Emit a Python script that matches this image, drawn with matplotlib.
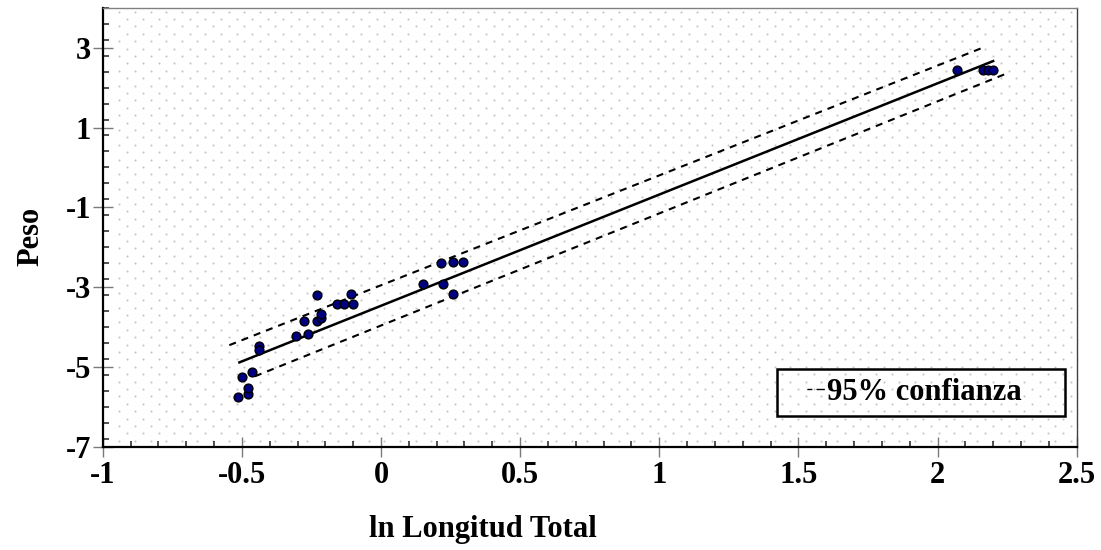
import numpy as np
import matplotlib
matplotlib.use("Agg")
import matplotlib.pyplot as plt
from matplotlib.lines import Line2D
from matplotlib.ticker import FixedLocator, FixedFormatter, MultipleLocator

# ---- data ----
ln_longitud = [-0.515, -0.479, -0.479, -0.501, -0.465, -0.438, -0.438,
               -0.306, -0.264, -0.277, -0.229, -0.214, -0.214, -0.229,
               -0.158, -0.134, -0.106, -0.099,
               0.151, 0.217, 0.224, 0.260, 0.260, 0.296,
               2.070, 2.162, 2.180, 2.198]
peso = [-5.74, -5.68, -5.52, -5.24, -5.12, -4.48, -4.56,
        -4.22, -4.16, -3.84, -3.84, -3.78, -3.66, -3.20,
        -3.41, -3.41, -3.18, -3.41,
        -2.91, -2.39, -2.91, -2.38, -3.18, -2.38,
        2.44, 2.44, 2.44, 2.44]

fit_x = [-0.513, 2.204]
fit_y = [-4.893, 2.675]
upper_x = [-0.545, 2.172]
upper_y = [-4.45, 3.025]
lower_x = [-0.453, 2.258]
lower_y = [-5.23, 2.38]

x_ticks = [-1, -0.5, 0, 0.5, 1, 1.5, 2, 2.5]
x_labels = ["-1", "-0.5", "0", "0.5", "1", "1.5", "2", "2.5"]
y_ticks = [-7, -5, -3, -1, 1, 3]
y_labels = ["-7", "-5", "-3", "-1", "1", "3"]
legend_label = "95% confianza"
xlabel = "ln Longitud Total"
ylabel = "Peso"

# ---- figure ----
plt.rcParams['font.family'] = ['Liberation Serif', 'DejaVu Serif']
plt.rcParams['font.weight'] = 'bold'
fs = 22

fig = plt.figure(figsize=(11.01, 5.5), dpi=100)
ax = fig.add_axes([102.7 / 1101, 1 - 447 / 550, 974 / 1101, 439.3 / 550])
ax.set_xlim(-1, 2.5)
ax.set_ylim(-7, 4)

# dotted background pattern (axes coordinates)
col = 15.6 / 974
row = 7.4 / 439.3
dx, dy = [], []
for i, yy in enumerate(np.arange(6.3 / 439.3, 1.0, row)):
    x0 = 16.6 / 974 + (i % 2) * 8.0 / 974
    xs = np.arange(x0, 1.0, col)
    dx.extend(xs)
    dy.extend([yy] * len(xs))
ax.scatter(dx, dy, s=2.2, c='#c4c4c4', linewidths=0, marker='o',
           transform=ax.transAxes, zorder=0, clip_on=True)

# lines
ax.plot(fit_x, fit_y, color='black', lw=1.8, zorder=3, solid_capstyle='butt')
ax.plot(upper_x, upper_y, color='black', lw=1.5, dashes=(3.4, 2.9), zorder=3)
ax.plot(lower_x, lower_y, color='black', lw=1.5, dashes=(3.4, 2.9), zorder=3)

# points
ax.scatter(ln_longitud, peso, s=40, c='#000080', edgecolors='black',
           linewidths=1.0, zorder=4)

# ticks
ax.xaxis.set_major_locator(FixedLocator(x_ticks))
ax.xaxis.set_major_formatter(FixedFormatter(x_labels))
ax.yaxis.set_major_locator(FixedLocator(y_ticks))
ax.yaxis.set_major_formatter(FixedFormatter(y_labels))
ax.xaxis.set_minor_locator(MultipleLocator(0.1))
ax.yaxis.set_minor_locator(MultipleLocator(0.4))
ax.tick_params(which='major', direction='inout', length=14.5, width=1.0,
               color='#7a7a7a', labelsize=fs)
ax.tick_params(axis='x', which='major', pad=3)
ax.tick_params(axis='y', which='major', pad=1)
ax.tick_params(which='minor', direction='in', length=4.5, width=1.1,
               color='#222222')
for lab in ax.get_xticklabels() + ax.get_yticklabels():
    lab.set_fontweight('bold')

# spines
ax.spines['left'].set_linewidth(1.6)
ax.spines['bottom'].set_linewidth(1.6)
ax.spines['left'].set_color('black')
ax.spines['bottom'].set_color('black')
ax.spines['top'].set_linewidth(1.0)
ax.spines['top'].set_color('#808080')
ax.spines['right'].set_linewidth(1.0)
ax.spines['right'].set_color('#404040')

# labels
ax.set_xlabel(xlabel, fontsize=fs, fontweight='bold')
ax.xaxis.set_label_coords((483 - 102.7) / 974, -0.155)
ax.set_ylabel(ylabel, fontsize=fs, fontweight='bold', va='center')
ax.yaxis.set_label_coords((31 - 102.7) / 974, 0.48)

# legend
handle = Line2D([], [], color='black', lw=1.0,
                ls=(0, (0.01, 15.0, 3.6, 3.0, 6.0, 60.0)))
leg = ax.legend([handle], [legend_label], loc='lower left',
                bbox_to_anchor=(0.692, 0.0706, 0.296, 0.1025),
                mode='expand', borderaxespad=0, borderpad=0.3,
                handlelength=1.3, handletextpad=0.05,
                prop={'family': 'Liberation Serif', 'weight': 'bold', 'size': fs},
                fancybox=False, facecolor='none', edgecolor='black')
leg.get_frame().set_linewidth(1.8)
leg.get_frame().set_alpha(None)

fig.savefig("out.png", dpi=100)
